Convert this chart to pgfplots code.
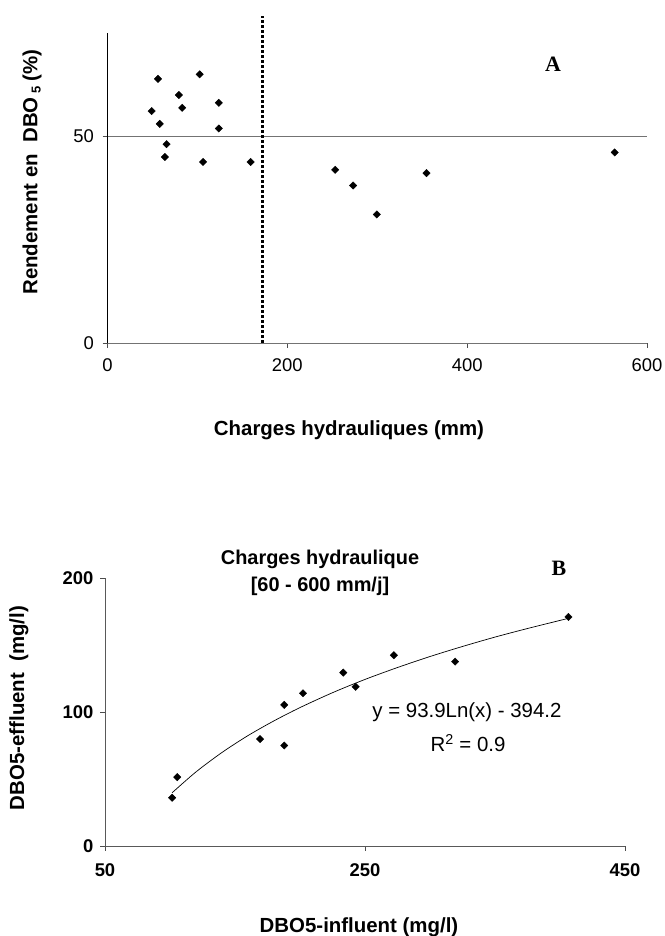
\documentclass[border=0pt]{standalone}
\usepackage{fontspec}
\setmainfont{Liberation Sans}
\newfontfamily\serifbf{Liberation Serif}
\usepackage{pgfplots}
\pgfplotsset{compat=1.18}
\begin{document}
\begin{tikzpicture}[x=1bp,y=1bp]
\useasboundingbox (0,0) rectangle (665,936);
% ---------------- Panel A
\begin{axis}[
  at={(107.5bp,593bp)}, anchor=south west,
  scale only axis, width=539.5bp, height=310bp,
  xmin=0, xmax=600, ymin=0, ymax=75,
  axis lines=left, axis line style={-},
  x axis line style={black!55},
  y axis line style={black},
  tick align=outside, major tick length=5bp,
  xtick={0,200,400,600}, ytick={0,50},
  tick style={black!70, line width=0.6bp},
  /pgf/number format/assume math mode=true,
  tick label style={font=\fontsize{18.5}{18.5}\selectfont},
  xticklabel style={yshift=-7bp},
  yticklabel style={xshift=-5bp},
  clip=false,
]
\draw[black!55, line width=0.8bp] (axis cs:0,50) -- (axis cs:600,50);
\draw[black, line width=3bp, dash pattern=on 3bp off 2bp] (axis cs:172,0) -- (axis cs:172,79);
\addplot[only marks, mark=square*, mark options={rotate=45}, mark size=2.6bp, black] coordinates {
(49.1,56.1) (56.2,63.9) (58.1,53.0) (65.7,48.1) (63.8,45.0) (79.4,60.0)
(83.1,56.9) (102.5,65.0) (106.3,43.8) (123.8,58.1) (123.8,51.9) (159.2,43.8)
(253.2,41.9) (273.1,38.1) (299.5,31.1) (354.8,41.1) (564.1,46.1)
};
\end{axis}
\node[font=\serifbf\bfseries\fontsize{22}{22}\selectfont] at (553,872) {A};
\node[font=\bfseries\fontsize{20.5}{20.5}\selectfont] at (349,506) {Charges hydrauliques (mm)};
\node[font=\bfseries\fontsize{20.5}{20.5}\selectfont, rotate=90] at (32,764) {Rendement en\ \ DBO\,\raisebox{-0.3ex}{\fontsize{13}{13}\selectfont 5} (\%)};
% ---------------- Panel B
\begin{axis}[
  at={(105bp,90bp)}, anchor=south west,
  scale only axis, width=520bp, height=268bp,
  xmin=50, xmax=450, ymin=0, ymax=200,
  axis lines=left, axis line style={-, black!65},
  tick align=outside, major tick length=5bp,
  xtick={50,250,450}, ytick={0,100,200},
  tick style={black!70, line width=0.6bp},
  /pgf/number format/assume math mode=true,
  tick label style={font=\bfseries\fontsize{18.5}{18.5}\selectfont},
  xticklabel style={yshift=-9bp},
  yticklabel style={xshift=-3bp},
  clip=false,
]
\addplot[black, line width=0.7bp, smooth] coordinates {
(101.6,39.7) (120,55.3) (140,69.8) (160,82.4) (180,93.4) (200,103.3)
(225,114.4) (250,124.3) (275,133.2) (300,141.4) (325,148.9) (350,155.9)
(375,162.3) (406.5,169.9)
};
\addplot[only marks, mark=square*, mark options={rotate=45}, mark size=2.6bp, black] coordinates {
(101.6,36.0) (105.6,51.4) (169.3,79.8) (187.9,105.3) (187.9,75.0) (202.3,114.0)
(233.3,129.4) (242.8,118.8) (272.2,142.4) (319.3,137.6) (406.5,170.9)
};
\end{axis}
\node[font=\bfseries\fontsize{20}{20}\selectfont, align=center] at (320,363) {Charges hydraulique\\[7bp][60 - 600 mm/j]};
\node[font=\serifbf\bfseries\fontsize{22}{22}\selectfont] at (559,368) {B};
\node[font=\fontsize{20.5}{20.5}\selectfont] at (467,224) {y = 93.9Ln(x) - 394.2};
\node[font=\fontsize{20.5}{20.5}\selectfont] at (468,193) {R\textsuperscript{2} = 0.9};
\node[font=\bfseries\fontsize{20.5}{20.5}\selectfont] at (359,9) {DBO5-influent (mg/l)};
\node[font=\bfseries\fontsize{20.5}{20.5}\selectfont, rotate=90] at (19,228) {DBO5-effluent\ \ (mg/l)};
\end{tikzpicture}
\end{document}
